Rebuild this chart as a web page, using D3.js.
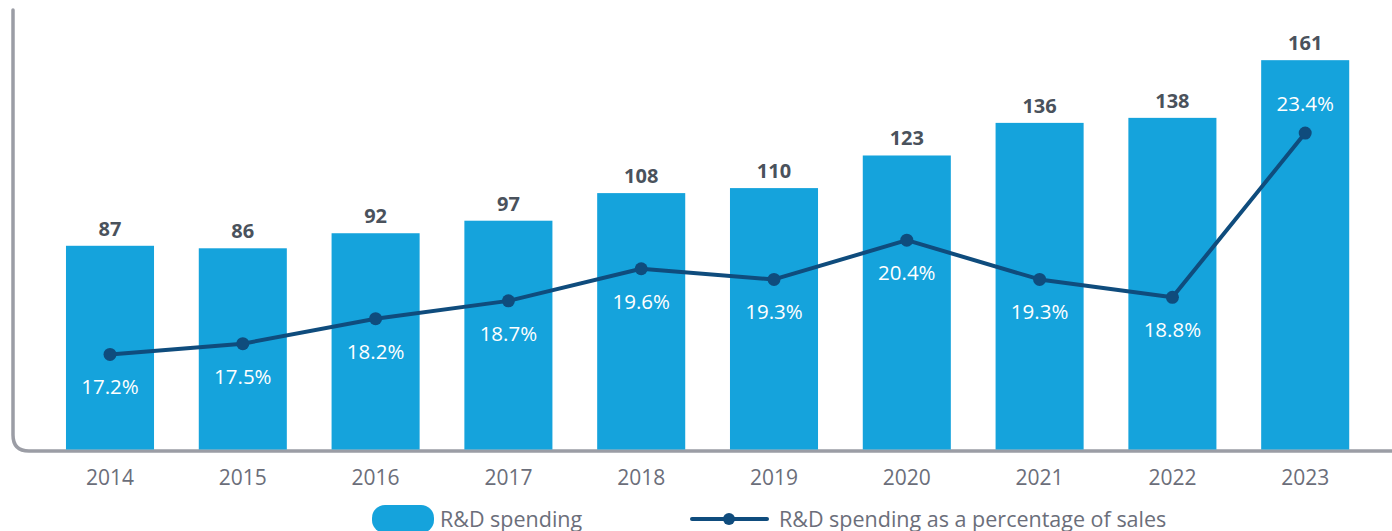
<!DOCTYPE html>
<html>
<head>
<meta charset="utf-8">
<script src="https://cdn.jsdelivr.net/npm/d3@7"></script>
<style>
  body { margin: 0; background: #fff; }
  svg { display: block; font-family: "Open Sans", "Noto Sans", sans-serif; }
</style>
</head>
<body>
<div id="chart"></div>
<script>
// data
const years = ["2014", "2015", "2016", "2017", "2018", "2019", "2020", "2021", "2022", "2023"];
const spending = [87, 86, 92, 97, 108, 110, 123, 136, 138, 161];
const spendingPct = [17.2, 17.5, 18.2, 18.7, 19.6, 19.3, 20.4, 19.3, 18.8, 23.4];
const legendLabels = ["R&D spending", "R&D spending as a percentage of sales"];

const width = 1392, height = 531;
const baseY = 451;

const svg = d3.select("#chart")
    .append("svg")
    .attr("width", width)
    .attr("height", height);

// scales
const x = d3.scaleBand()
    .domain(years)
    .range([43.6, 1371.6])
    .paddingInner(0.337)
    .paddingOuter(0.1685);

const y = d3.scaleLinear()
    .domain([0, 170])
    .range([464, 37.6]);

const yPct = d3.scaleLinear()
    .domain([12, 25])
    .range([540, 76]);

const data = years.map((yr, i) => ({ year: yr, value: spending[i], pct: spendingPct[i] }));

// axis frame: left line with rounded corner into the bottom line
svg.append("path")
    .attr("d", `M13,10 L13,${baseY - 16} Q13,${baseY} 29,${baseY} L${width},${baseY}`)
    .attr("fill", "none")
    .attr("stroke", "#9b9da5")
    .attr("stroke-width", 3.5)
    .attr("stroke-linecap", "round");

// bars
svg.selectAll("rect.bar")
    .data(data)
    .join("rect")
    .attr("class", "bar")
    .attr("x", d => x(d.year))
    .attr("y", d => y(d.value))
    .attr("width", x.bandwidth())
    .attr("height", d => baseY - 1.5 - y(d.value))
    .attr("fill", "#15a3dc");

// value labels on top of bars
svg.selectAll("text.val")
    .data(data)
    .join("text")
    .attr("class", "val")
    .attr("x", d => x(d.year) + x.bandwidth() / 2)
    .attr("y", d => y(d.value) - 10)
    .attr("text-anchor", "middle")
    .attr("font-size", 20)
    .attr("font-weight", 700)
    .attr("fill", "#4a525c")
    .text(d => d.value);

// year labels
svg.selectAll("text.year")
    .data(data)
    .join("text")
    .attr("class", "year")
    .attr("x", d => x(d.year) + x.bandwidth() / 2)
    .attr("y", 485)
    .attr("text-anchor", "middle")
    .attr("font-size", 21)
    .attr("fill", "#6b6e7a")
    .text(d => d.year);

// percentage line
svg.append("path")
    .datum(data)
    .attr("fill", "none")
    .attr("stroke", "#0f4c7d")
    .attr("stroke-width", 4)
    .attr("stroke-linejoin", "round")
    .attr("d", d3.line()
        .x(d => x(d.year) + x.bandwidth() / 2)
        .y(d => yPct(d.pct))
    );

svg.selectAll("circle.pt")
    .data(data)
    .join("circle")
    .attr("class", "pt")
    .attr("cx", d => x(d.year) + x.bandwidth() / 2)
    .attr("cy", d => yPct(d.pct))
    .attr("r", 6.5)
    .attr("fill", "#0f4c7d");

// percentage labels (last one sits above its point)
svg.selectAll("text.pct")
    .data(data)
    .join("text")
    .attr("class", "pct")
    .attr("x", d => x(d.year) + x.bandwidth() / 2)
    .attr("y", (d, i) => i === data.length - 1 ? yPct(d.pct) - 22 : yPct(d.pct) + 40)
    .attr("text-anchor", "middle")
    .attr("font-size", 20.5)
    .attr("fill", "#ffffff")
    .text(d => d.pct.toFixed(1) + "%");

// legend
const legend = svg.append("g");
legend.append("rect")
    .attr("x", 372)
    .attr("y", 505)
    .attr("width", 62)
    .attr("height", 28)
    .attr("rx", 13)
    .attr("fill", "#15a3dc");
legend.append("text")
    .attr("x", 440)
    .attr("y", 527)
    .attr("font-size", 21.5)
    .attr("fill", "#6b6e7a")
    .text(legendLabels[0]);

legend.append("line")
    .attr("x1", 692)
    .attr("x2", 767)
    .attr("y1", 519)
    .attr("y2", 519)
    .attr("stroke", "#0f4c7d")
    .attr("stroke-width", 4)
    .attr("stroke-linecap", "round");
legend.append("circle")
    .attr("cx", 729)
    .attr("cy", 519)
    .attr("r", 6)
    .attr("fill", "#0f4c7d");
legend.append("text")
    .attr("x", 779)
    .attr("y", 527)
    .attr("font-size", 21.5)
    .attr("fill", "#6b6e7a")
    .text(legendLabels[1]);
</script>
</body>
</html>
